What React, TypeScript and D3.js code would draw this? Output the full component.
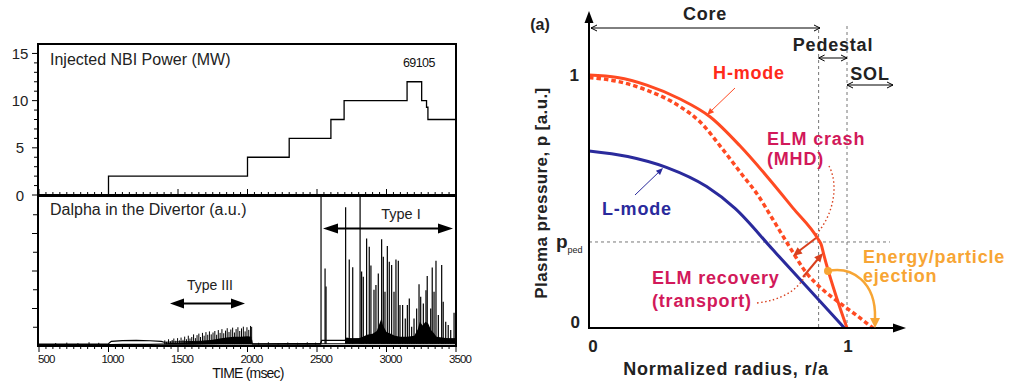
import React from 'react';
import * as d3 from 'd3';

// ---------- Left panel data ----------
const nbiTimes = [500, 1000, 2000, 2300, 2600, 2695, 3148, 3253, 3288, 3298, 3500];
const nbiPower = [0, 2, 4, 6, 8, 10, 12, 10, 9.3, 8, 8];
const nbiTicks = [0, 5, 10, 15];
const timeTicks = [500, 1000, 1500, 2000, 2500, 3000, 3500];

const baseT = [500, 1000, 1020, 1100, 1200, 1300, 1380, 1400, 1600, 1800, 2030, 2035, 2300, 2525, 2535, 2700, 2710, 3500];
const baseLo = [0.07, 0.08, 0.08, 0.09, 0.09, 0.09, 0.1, 0.1, 0.1, 0.12, 0.12, 0.1, 0.1, 0.1, 0.12, 0.12, 0.12, 0.12];
const baseHi = [0.1, 0.12, 0.25, 0.29, 0.3, 0.28, 0.25, 0.2, 0.24, 0.28, 0.3, 0.12, 0.13, 0.13, 0.3, 0.3, 0.38, 0.38];

const noiseT = [620, 700, 780, 860, 930, 2080, 2150, 2220, 2290, 2360, 2430, 2490];
const noiseH = [0.16, 0.18, 0.15, 0.2, 0.17, 0.17, 0.2, 0.16, 0.19, 0.17, 0.2, 0.18];

const typeIIIT = [1405, 1418, 1432, 1446, 1458, 1470, 1484, 1497, 1510, 1522, 1536, 1548, 1561, 1574, 1586, 1599, 1612, 1625, 1637, 1650, 1662, 1676, 1688, 1701, 1714, 1726, 1739, 1752, 1765, 1778, 1790, 1803, 1816, 1829, 1842, 1854, 1867, 1880, 1893, 1906, 1918, 1931, 1944, 1957, 1970, 1983, 1996, 2009, 2022, 2030];
const typeIIIH = [0.3, 0.22, 0.36, 0.25, 0.32, 0.4, 0.28, 0.42, 0.3, 0.45, 0.33, 0.5, 0.36, 0.55, 0.4, 0.48, 0.62, 0.42, 0.58, 0.66, 0.48, 0.7, 0.55, 0.74, 0.6, 0.78, 0.62, 0.72, 0.8, 0.6, 0.85, 0.7, 0.9, 0.68, 0.82, 0.95, 0.75, 0.88, 0.98, 0.72, 0.9, 1.0, 0.8, 0.94, 1.03, 0.78, 1.0, 0.86, 1.07, 1.02];
const typeIIIFillT = [1400, 1450, 1500, 1550, 1600, 1650, 1700, 1750, 1800, 1850, 1900, 1950, 2000, 2028, 2030];
const typeIIIFillH = [0.14, 0.16, 0.18, 0.2, 0.22, 0.25, 0.3, 0.34, 0.4, 0.45, 0.5, 0.5, 0.52, 0.5, 0.12];

const typeIT = [2529, 2558, 2565, 2706, 2732, 2757, 2810, 2821, 2833, 2857, 2876, 2888, 2910, 2924, 2941, 2965, 2977, 2989, 3006, 3020, 3037, 3054, 3068, 3085, 3097, 3116, 3135, 3150, 3164, 3181, 3198, 3217, 3234, 3246, 3265, 3284, 3293, 3318, 3329, 3342, 3356, 3373, 3397, 3408, 3426, 3444, 3462, 3486];
const typeIH = [8, 4.14, 3.17, 7.4, 4.62, 4.2, 8, 3.97, 3.7, 5.74, 5.3, 4.3, 3.0, 3.25, 3.87, 5.69, 4.76, 2.9, 5.33, 4.5, 4.32, 2.9, 4.62, 4.55, 2.19, 2.19, 1.47, 2.19, 2.54, 1.03, 1.47, 2.0, 3.3, 2.63, 2.27, 2.98, 3.73, 2.0, 4.19, 2.9, 4.55, 1.65, 4.32, 2.36, 1.3, 1.12, 0.85, 1.78];
const typeIFillT = [2705, 2712, 2750, 2800, 2830, 2860, 2900, 2930, 2950, 2965, 2975, 3000, 3030, 3060, 3100, 3150, 3200, 3225, 3240, 3260, 3280, 3300, 3320, 3340, 3360, 3400, 3450, 3500];
const typeIFillH = [0.35, 0.45, 0.4, 0.42, 0.5, 0.6, 0.65, 0.8, 1.2, 1.5, 1.1, 0.75, 0.65, 0.55, 0.5, 0.5, 0.55, 0.9, 1.3, 1.1, 1.3, 1.2, 0.85, 0.7, 0.5, 0.45, 0.4, 0.4];

// ---------- Right panel data ----------
const lModeR = [0, 0.15, 0.3, 0.456, 0.566, 0.714, 0.844, 0.99];
const lModeP = [0.70, 0.678, 0.635, 0.559, 0.473, 0.308, 0.163, 0];
const hModeR = [0, 0.11, 0.224, 0.353, 0.469, 0.585, 0.689, 0.79, 0.889, 0.9, 0.91, 1.0];
const hModeP = [1.0, 0.99, 0.96, 0.905, 0.835, 0.72, 0.6, 0.475, 0.35, 0.33, 0.29, 0];
const crashR = [0, 0.11, 0.224, 0.353, 0.43, 0.52, 0.598, 0.65, 0.714, 0.779, 0.844, 0.908, 0.973, 1.037, 1.1];
const crashP = [0.99, 0.975, 0.94, 0.875, 0.815, 0.704, 0.6, 0.532, 0.427, 0.318, 0.216, 0.15, 0.098, 0.05, 0];
const pPed = 0.34;
const rPed = 0.89;
const rSep = 1.0;

function head(x1: number, y1: number, x2: number, y2: number, len: number, half: number) {
  const dx = x2 - x1, dy = y2 - y1;
  const L = Math.hypot(dx, dy);
  const ux = dx / L, uy = dy / L;
  const bx = x2 - ux * len, by = y2 - uy * len;
  return `${x2},${y2} ${bx - uy * half},${by + ux * half} ${bx + uy * half},${by - ux * half}`;
}

function DoubleArrow({ x1, x2, y, len, half, sw, color = '#000' }: any) {
  return (
    <g>
      <line x1={x1 + len * 0.6} x2={x2 - len * 0.6} y1={y} y2={y} stroke={color} strokeWidth={sw} />
      <polygon points={head(x2, y, x1, y, len, half)} fill={color} />
      <polygon points={head(x1, y, x2, y, len, half)} fill={color} />
    </g>
  );
}

function LineArrow({ x1, x2, y }: any) {
  return (
    <g stroke="#000" strokeWidth={1} fill="none">
      <line x1={x1} x2={x2} y1={y} y2={y} />
      <polyline points={`${x1 + 6},${y - 3} ${x1},${y} ${x1 + 6},${y + 3}`} />
      <polyline points={`${x2 - 6},${y - 3} ${x2},${y} ${x2 - 6},${y + 3}`} />
    </g>
  );
}

export default function App() {
  const xT = d3.scaleLinear().domain([500, 3500]).range([39, 456]);
  const yN = d3.scaleLinear().domain([0, 16]).range([195, 44]);
  const yD = d3.scaleLinear().domain([0, 8]).range([346, 196]);

  const nbiLine = d3.line<number>().x((_, i) => xT(nbiTimes[i])).y((d) => yN(d)).curve(d3.curveStepAfter)(nbiPower) || '';
  const loLine = d3.line<number>().x((_, i) => xT(baseT[i])).y((d) => yD(d))(baseLo) || '';
  const hiLine = d3.line<number>().x((_, i) => xT(baseT[i])).y((d) => yD(d))(baseHi) || '';
  const t3Area = d3.area<number>().x((_, i) => xT(typeIIIFillT[i])).y0(yD(0.1)).y1((d) => yD(d))(typeIIIFillH) || '';
  const t1Area = d3.area<number>().x((_, i) => xT(typeIFillT[i])).y0(yD(0.12)).y1((d) => yD(d))(typeIFillH) || '';

  const minorT = d3.range(500, 3501, 50);

  const rx = d3.scaleLinear().domain([0, 1]).range([589, 847]);
  const py = d3.scaleLinear().domain([0, 1]).range([328, 75]);
  const lPath = d3.line<number>().x((_, i) => rx(lModeR[i])).y((d) => py(d)).curve(d3.curveMonotoneX)(lModeP) || '';
  const hPath = d3.line<number>().x((_, i) => rx(hModeR[i])).y((d) => py(d)).curve(d3.curveMonotoneX)(hModeP) || '';
  const cPath = d3.line<number>().x((_, i) => rx(crashR[i])).y((d) => py(d)).curve(d3.curveMonotoneX)(crashP) || '';

  const lf = '"Liberation Sans", Arial, Helvetica, sans-serif';
  const red = '#ff4a22';
  const crimson = '#d2195a';
  const blue = '#2a2a9c';
  const orange = '#f7a534';
  const arrowRed = '#d8401e';
  const FS = 18;
  const LS = 0.8;

  return (
    <svg width={1014} height={385} style={{ position: 'absolute', left: 0, top: 0, background: '#fff' }}>
      <rect width={1014} height={385} fill="#fff" />
      {/* ================= LEFT PANEL ================= */}
      <g fontFamily={lf}>
        {d3.range(0, 16, 1).map((v) => (
          <line key={'yn' + v} x1={38} x2={v % 5 === 0 ? 32 : 34} y1={yN(v)} y2={yN(v)} stroke="#000" strokeWidth={1} />
        ))}
        {nbiTicks.map((v) => (
          <text key={'ynl' + v} x={20} y={yN(v) + 5.5} fontSize={15} textAnchor="middle" fill="#222">{v}</text>
        ))}
        {minorT.map((t) => (
          <line key={'tt' + t} x1={xT(t)} x2={xT(t)} y1={195} y2={t % 500 === 0 ? 189 : 192} stroke="#000" strokeWidth={1} />
        ))}
        <path d={nbiLine} fill="none" stroke="#000" strokeWidth={1.3} />
        <text x={50} y={65} fontSize={16} fill="#222">Injected NBI Power (MW)</text>
        <text x={403} y={67} fontSize={12.5} fill="#111" letterSpacing={-0.6}>69105</text>

        {d3.range(1, 8, 1).map((v) => (
          <line key={'yd' + v} x1={38} x2={v % 2 === 0 ? 32 : 33} y1={yD(v)} y2={yD(v)} stroke="#000" strokeWidth={1} />
        ))}
        {minorT.map((t) => (
          <line key={'tb' + t} x1={xT(t)} x2={xT(t)} y1={346} y2={t % 500 === 0 ? 352 : 349} stroke="#000" strokeWidth={1} />
        ))}
        {timeTicks.map((t, i) => (
          <text key={'tl' + t} x={i === 0 ? xT(t) - 1 : xT(t) + 4} y={363} fontSize={11.5} letterSpacing={-0.9}
            textAnchor={i === 0 ? 'start' : 'middle'} fill="#111">{t}</text>
        ))}
        <text x={248} y={378} fontSize={14} textAnchor="middle" letterSpacing={-0.8} fill="#111">TIME (msec)</text>

        <path d={t3Area} fill="#000" />
        <path d={t1Area} fill="#000" />
        {typeIIIT.map((t, i) => (
          <line key={'s3' + i} x1={xT(t)} x2={xT(t)} y1={yD(0.1)} y2={yD(typeIIIH[i])} stroke="#000" strokeWidth={1} />
        ))}
        {noiseT.map((t, i) => (
          <line key={'nz' + i} x1={xT(t)} x2={xT(t)} y1={yD(0.08)} y2={yD(noiseH[i])} stroke="#000" strokeWidth={1} />
        ))}
        {typeIT.map((t, i) => (
          <line key={'s1' + i} x1={xT(t)} x2={xT(t)} y1={yD(0.12)} y2={yD(typeIH[i])} stroke="#000" strokeWidth={1.2} />
        ))}
        <path d={loLine} fill="none" stroke="#000" strokeWidth={1.2} />
        <path d={hiLine} fill="none" stroke="#000" strokeWidth={1.2} />

        <text x={50} y={215} fontSize={16} fill="#222">Dalpha in the Divertor (a.u.)</text>
        <text x={401} y={219} fontSize={14.5} textAnchor="middle" fill="#222">Type I</text>
        <DoubleArrow x1={323} x2={453} y={228.5} len={15} half={5} sw={2} />
        <text x={210} y={290} fontSize={14} textAnchor="middle" fill="#222">Type III</text>
        <DoubleArrow x1={170} x2={245} y={303.5} len={14} half={5} sw={2} />

        <rect x={38} y={44} width={418} height={151} fill="none" stroke="#000" strokeWidth={2} />
        <rect x={38} y={196} width={418} height={150} fill="none" stroke="#000" strokeWidth={2} />
      </g>

      {/* ================= RIGHT PANEL ================= */}
      <g fontFamily={lf} fontWeight="bold">
        <g stroke="#777" strokeWidth={1} strokeDasharray="3,3">
          <line x1={589} x2={890} y1={py(pPed)} y2={py(pPed)} />
          <line x1={rx(rPed)} x2={rx(rPed)} y1={30} y2={328} />
          <line x1={rx(rSep)} x2={rx(rSep)} y1={26} y2={328} />
        </g>

        <path d={lPath} fill="none" stroke={blue} strokeWidth={3} />
        <path d={cPath} fill="none" stroke={red} strokeWidth={3.5} strokeDasharray="4.5,3" />
        <path d={hPath} fill="none" stroke={red} strokeWidth={3} strokeLinejoin="round" />

        <line x1={589} x2={589} y1={328} y2={22} stroke="#000" strokeWidth={2} />
        <polygon points={head(589, 40, 589, 11, 12, 4.5)} fill="#000" />
        <line x1={588} x2={895} y1={328} y2={328} stroke="#000" strokeWidth={2} />
        <polygon points={head(870, 328, 906, 328, 13, 4.5)} fill="#000" />

        <LineArrow x1={591} x2={820} y={28} />
        <LineArrow x1={rx(rPed)} x2={rx(rSep)} y={58} />
        <LineArrow x1={rx(rSep)} x2={893} y={85} />

        <text x={540} y={30} fontSize={16} textAnchor="middle" fill="#222">(a)</text>
        <text x={705} y={20} fontSize={FS} letterSpacing={LS} textAnchor="middle" fill="#222">Core</text>
        <text x={833} y={51} fontSize={FS} letterSpacing={LS} textAnchor="middle" fill="#222">Pedestal</text>
        <text x={870} y={80} fontSize={FS} letterSpacing={LS} textAnchor="middle" fill="#222">SOL</text>

        <text x={579} y={py(1) + 6} fontSize={17} textAnchor="end" fill="#222">1</text>
        <text x={580} y={328} fontSize={17} textAnchor="end" fill="#222">0</text>
        <text x={556} y={py(pPed) + 6} fontSize={19} fill="#222">p<tspan fontSize={9} fontWeight="normal" dy={5}>ped</tspan></text>
        <text x={593} y={352} fontSize={17} textAnchor="middle" fill="#222">0</text>
        <text x={848} y={352} fontSize={17} textAnchor="middle" fill="#222">1</text>
        <text x={726} y={375} fontSize={FS} letterSpacing={LS} textAnchor="middle" fill="#222">Normalized radius, r/a</text>
        <text transform="translate(547,193) rotate(-90)" fontSize={17} letterSpacing={0.4} textAnchor="middle" fill="#222">Plasma pressure, p [a.u.]</text>

        <text x={749} y={79} fontSize={FS} letterSpacing={LS} textAnchor="middle" fill="#ff2a1a">H-mode</text>
        <line x1={735} y1={88} x2={710} y2={112} stroke={red} strokeWidth={1} />
        <polygon points={head(735, 88, 707, 115, 7, 3)} fill={red} />

        <text x={602} y={215} fontSize={FS} letterSpacing={LS} fill={blue}>L-mode</text>
        <line x1={635} y1={195} x2={661} y2={170} stroke={blue} strokeWidth={1} />
        <polygon points={head(635, 195, 663, 168, 7, 3)} fill={blue} />

        <text x={767} y={145} fontSize={FS} letterSpacing={LS} fill={crimson}>ELM crash</text>
        <text x={767} y={165} fontSize={FS} letterSpacing={LS} fill={crimson}>(MHD)</text>
        <path d="M 829 166 C 839 185, 834 215, 815 236" fill="none" stroke={arrowRed} strokeWidth={1.4} strokeDasharray="1.5,2.5" />
        <line x1={816} y1={238} x2={799} y2={251} stroke={arrowRed} strokeWidth={2} />
        <polygon points={head(816, 238, 793, 256, 9, 4)} fill={arrowRed} />

        <text x={652} y={284} fontSize={FS} letterSpacing={LS} fill={crimson}>ELM recovery</text>
        <text x={652} y={307} fontSize={FS} letterSpacing={LS} fill={crimson}>(transport)</text>
        <path d="M 757 303 C 782 300, 800 290, 808 270" fill="none" stroke={arrowRed} strokeWidth={1.4} strokeDasharray="1.5,2.5" />
        <line x1={803} y1={277} x2={818} y2={259} stroke={arrowRed} strokeWidth={2} />
        <polygon points={head(803, 277, 823, 253, 9, 4)} fill={arrowRed} />

        <text x={863} y={263} fontSize={FS} letterSpacing={LS} fill={orange}>Energy/particle</text>
        <text x={863} y={282} fontSize={FS} letterSpacing={LS} fill={orange}>ejection</text>
        <circle cx={828} cy={271} r={4} fill={orange} />
        <path d="M 828 271 C 852 266, 876 282, 875 318" fill="none" stroke={orange} strokeWidth={2.5} />
        <polygon points={head(875, 310, 875, 328, 10, 5)} fill={orange} />
      </g>
    </svg>
  );
}
